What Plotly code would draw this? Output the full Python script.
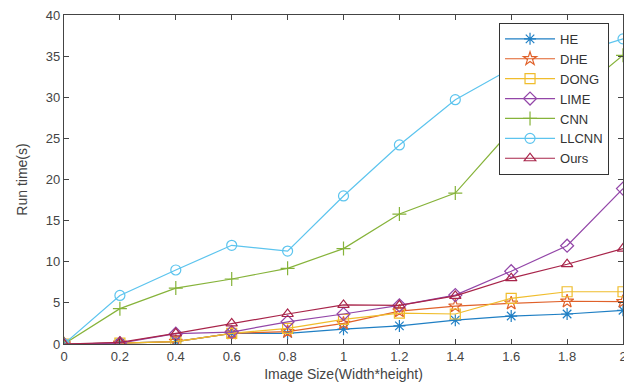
import plotly.graph_objects as go

x_vals = [0, 0.2, 0.4, 0.6, 0.8, 1.0, 1.2, 1.4, 1.6, 1.8, 2.0]
he = [0, 0.1, 0.3, 1.3, 1.3, 1.8, 2.2, 2.9, 3.4, 3.65, 4.1]
dhe = [0, 0.1, 0.3, 1.3, 1.5, 2.5, 4.0, 4.6, 4.95, 5.2, 5.15]
dong = [0, 0.1, 0.3, 1.3, 1.9, 3.0, 3.75, 3.65, 5.55, 6.35, 6.35]
lime = [0, 0.1, 1.25, 1.45, 2.7, 3.65, 4.7, 5.95, 8.85, 11.95, 18.9]
cnn = [0, 4.3, 6.8, 7.9, 9.2, 11.6, 15.8, 18.35, 26.0, 29.5, 35.1]
llcnn = [0, 5.9, 9.0, 12.0, 11.3, 18.0, 24.2, 29.7, 33.5, 35.0, 37.1]
ours = [0, 0.2, 1.3, 2.5, 3.65, 4.75, 4.7, 5.85, 8.0, 9.7, 11.6]

series = [
    ("HE", he, "#1f7fc4", "asterisk-open"),
    ("DHE", dhe, "#e0612a", "star-open"),
    ("DONG", dong, "#f0bd2c", "square-open"),
    ("LIME", lime, "#9346a8", "diamond-open"),
    ("CNN", cnn, "#86b33a", "cross-thin-open"),
    ("LLCNN", llcnn, "#5cc4ee", "circle-open"),
    ("Ours", ours, "#a8244a", "triangle-up-open"),
]

fig = go.Figure()
for name, vals, color, sym in series:
    fig.add_trace(go.Scatter(
        x=x_vals, y=vals, name=name, mode="lines+markers",
        line=dict(color=color, width=1.2),
        marker=dict(symbol=sym, size=10, color=color, line=dict(color=color, width=1.2)),
    ))

axis_common = dict(
    showline=True, linecolor="#444444", linewidth=1.2, mirror="ticks",
    ticks="inside", ticklen=5, tickcolor="#444444", showgrid=False, zeroline=False,
    ticklabeloverflow="allow",
    tickfont=dict(family="Liberation Sans, Arial, sans-serif", size=13, color="#444444"),
)

fig.update_layout(
    width=624, height=378,
    margin=dict(l=56, r=9, t=7, b=42),
    paper_bgcolor="white", plot_bgcolor="white",
    font=dict(family="Liberation Sans, Arial, sans-serif", size=13, color="#444444"),
    xaxis=dict(range=[0, 2], tickvals=[0, 0.2, 0.4, 0.6, 0.8, 1, 1.2, 1.4, 1.6, 1.8, 2],
               ticktext=["0", "0.2", "0.4", "0.6", "0.8", "1", "1.2", "1.4", "1.6", "1.8", "2"],
               title=dict(text="Image Size(Width*height)", font=dict(size=14), standoff=6),
               automargin="bottom",
               **axis_common),
    yaxis=dict(range=[0, 40], tickvals=[0, 5, 10, 15, 20, 25, 30, 35, 40],
               title=dict(text="Run time(s)", font=dict(size=14), standoff=14),
               automargin="left",
               **axis_common),
    legend=dict(x=0.975, y=0.976, xanchor="right", yanchor="top",
                bgcolor="white", bordercolor="#333333", borderwidth=1,
                font=dict(size=13, color="#333333"), tracegroupgap=0,
                itemwidth=50),
    showlegend=True,
)

fig.write_html("out.html")
